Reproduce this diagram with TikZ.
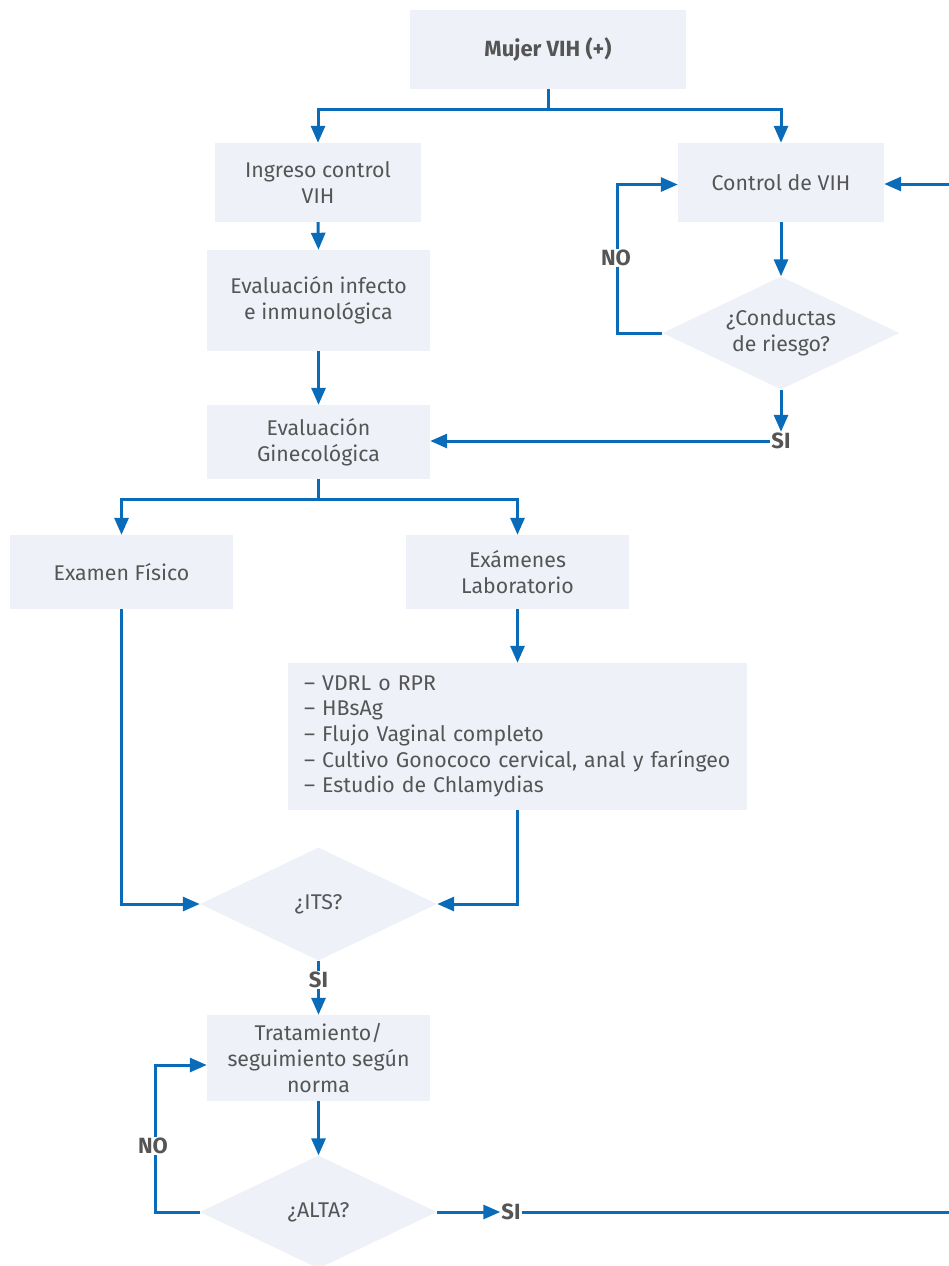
\documentclass[tikz,border=0pt]{standalone}
\usepackage{fontspec}
\setmainfont{Fira Sans}
\usetikzlibrary{shapes.geometric,arrows.meta}
\definecolor{boxfill}{HTML}{EEF2F8}
\definecolor{lineblue}{HTML}{0A6BB8}
\definecolor{txt}{HTML}{555555}
\begin{document}
\begin{tikzpicture}[x=1pt,y=-1pt,
  box/.style={rectangle, fill=boxfill, text=txt, align=center, inner sep=0pt,
    font=\fontsize{21.3}{25.7}\selectfont},
  dia/.style={diamond, fill=boxfill, text=txt, align=center, inner sep=0pt,
    minimum width=237pt, minimum height=113pt, aspect=2.1,
    font=\fontsize{21.3}{25.7}\selectfont},
  lbl/.style={text=txt, fill=white, inner sep=1pt, font=\bfseries\fontsize{22}{24}\selectfont},
  conn/.style={draw=lineblue, line width=3pt},
  arr/.style={conn, -{Triangle[length=17pt,width=14pt]}}]
\useasboundingbox (0,0) rectangle (949,1266);
\clip (0,0) rectangle (949,1266);
% nodes
\node[box, minimum width=276pt, minimum height=79pt, font=\bfseries\fontsize{22}{24}\selectfont] (mujer) at (548,49.5) {Mujer VIH (+)};
\node[box, minimum width=206pt, minimum height=79pt] (ingreso) at (318,182.5) {Ingreso control\\VIH};
\node[box, minimum width=206pt, minimum height=79pt] (ctrl) at (781,182.5) {Control de VIH};
\node[dia] (cond) at (781,333) {¿Conductas\\de riesgo?};
\node[box, minimum width=223pt, minimum height=101pt] (infecto) at (318.5,300.5) {Evaluación infecto\\e inmunológica};
\node[box, minimum width=223pt, minimum height=74pt] (gine) at (318.5,442) {Evaluación\\Ginecológica};
\node[box, minimum width=223pt, minimum height=74pt] (fisico) at (121.5,572) {Examen Físico};
\node[box, minimum width=223pt, minimum height=74pt] (lab) at (517.5,572) {Exámenes\\Laboratorio};
\node[box, minimum width=459pt, minimum height=147pt, align=left, text width=427pt] (list) at (517.5,736.5)
  {– VDRL o RPR\\– HBsAg\\– Flujo Vaginal completo\\– Cultivo Gonococo cervical, anal y faríngeo\\– Estudio de Chlamydias};
\node[dia] (its) at (318.5,904) {¿ITS?};
\node[box, minimum width=223pt, minimum height=86pt] (trat) at (318.5,1058) {Tratamiento/\\seguimiento según\\norma};
\node[dia] (alta) at (318.5,1212) {¿ALTA?};
% coordinates
\coordinate (s1) at (548,109);
\coordinate (s2) at (318.5,499);
\coordinate (noc) at (617,333);
\coordinate (noc2) at (155,1212);
\coordinate (re1) at (965,1212);
\coordinate (re2) at (965,184);
% connectors
\draw[conn] (mujer.south) -- (s1);
\draw[arr] (s1) -| (ingreso.north);
\draw[arr] (s1) -| (ctrl.north);
\draw[arr] (ctrl.south) -- (cond.north);
\draw[arr] (cond.west) -- (noc) |- ([yshift=-2pt]ctrl.west);
\draw[arr] (ingreso.south) -- (infecto.north);
\draw[arr] (infecto.south) -- (gine.north);
\draw[conn] (gine.south) -- (s2);
\draw[arr] (s2) -| (fisico.north);
\draw[arr] (s2) -| (lab.north);
\draw[arr] (lab.south) -- (list.north);
\draw[arr] (list.south) |- (its.east);
\draw[arr] (fisico.south) |- (its.west);
\node[lbl] (si1) at (781,441) {SI};
\draw[arr] (cond.south) -- (si1.north);
\draw[arr] (si1.west) -- (gine.east |- si1.west);
\node[lbl] (si2) at (318.5,980) {SI};
\draw[conn] (its.south) -- (si2.north);
\draw[arr] (si2.south) -- (trat.north);
\draw[arr] (trat.south) -- (alta.north);
\draw[arr] (alta.west) -- (noc2) |- ([yshift=-7pt]trat.west);
\node[lbl] (si3) at (511,1212) {SI};
\draw[arr] (alta.east) -- (si3.west);
\draw[arr] (si3.east) -- (re1) -- (re2) -- (ctrl.east |- re2);
\node[lbl] (no1) at (616,258) {NO};
\node[lbl] (no2) at (153,1146) {NO};
\end{tikzpicture}
\end{document}
